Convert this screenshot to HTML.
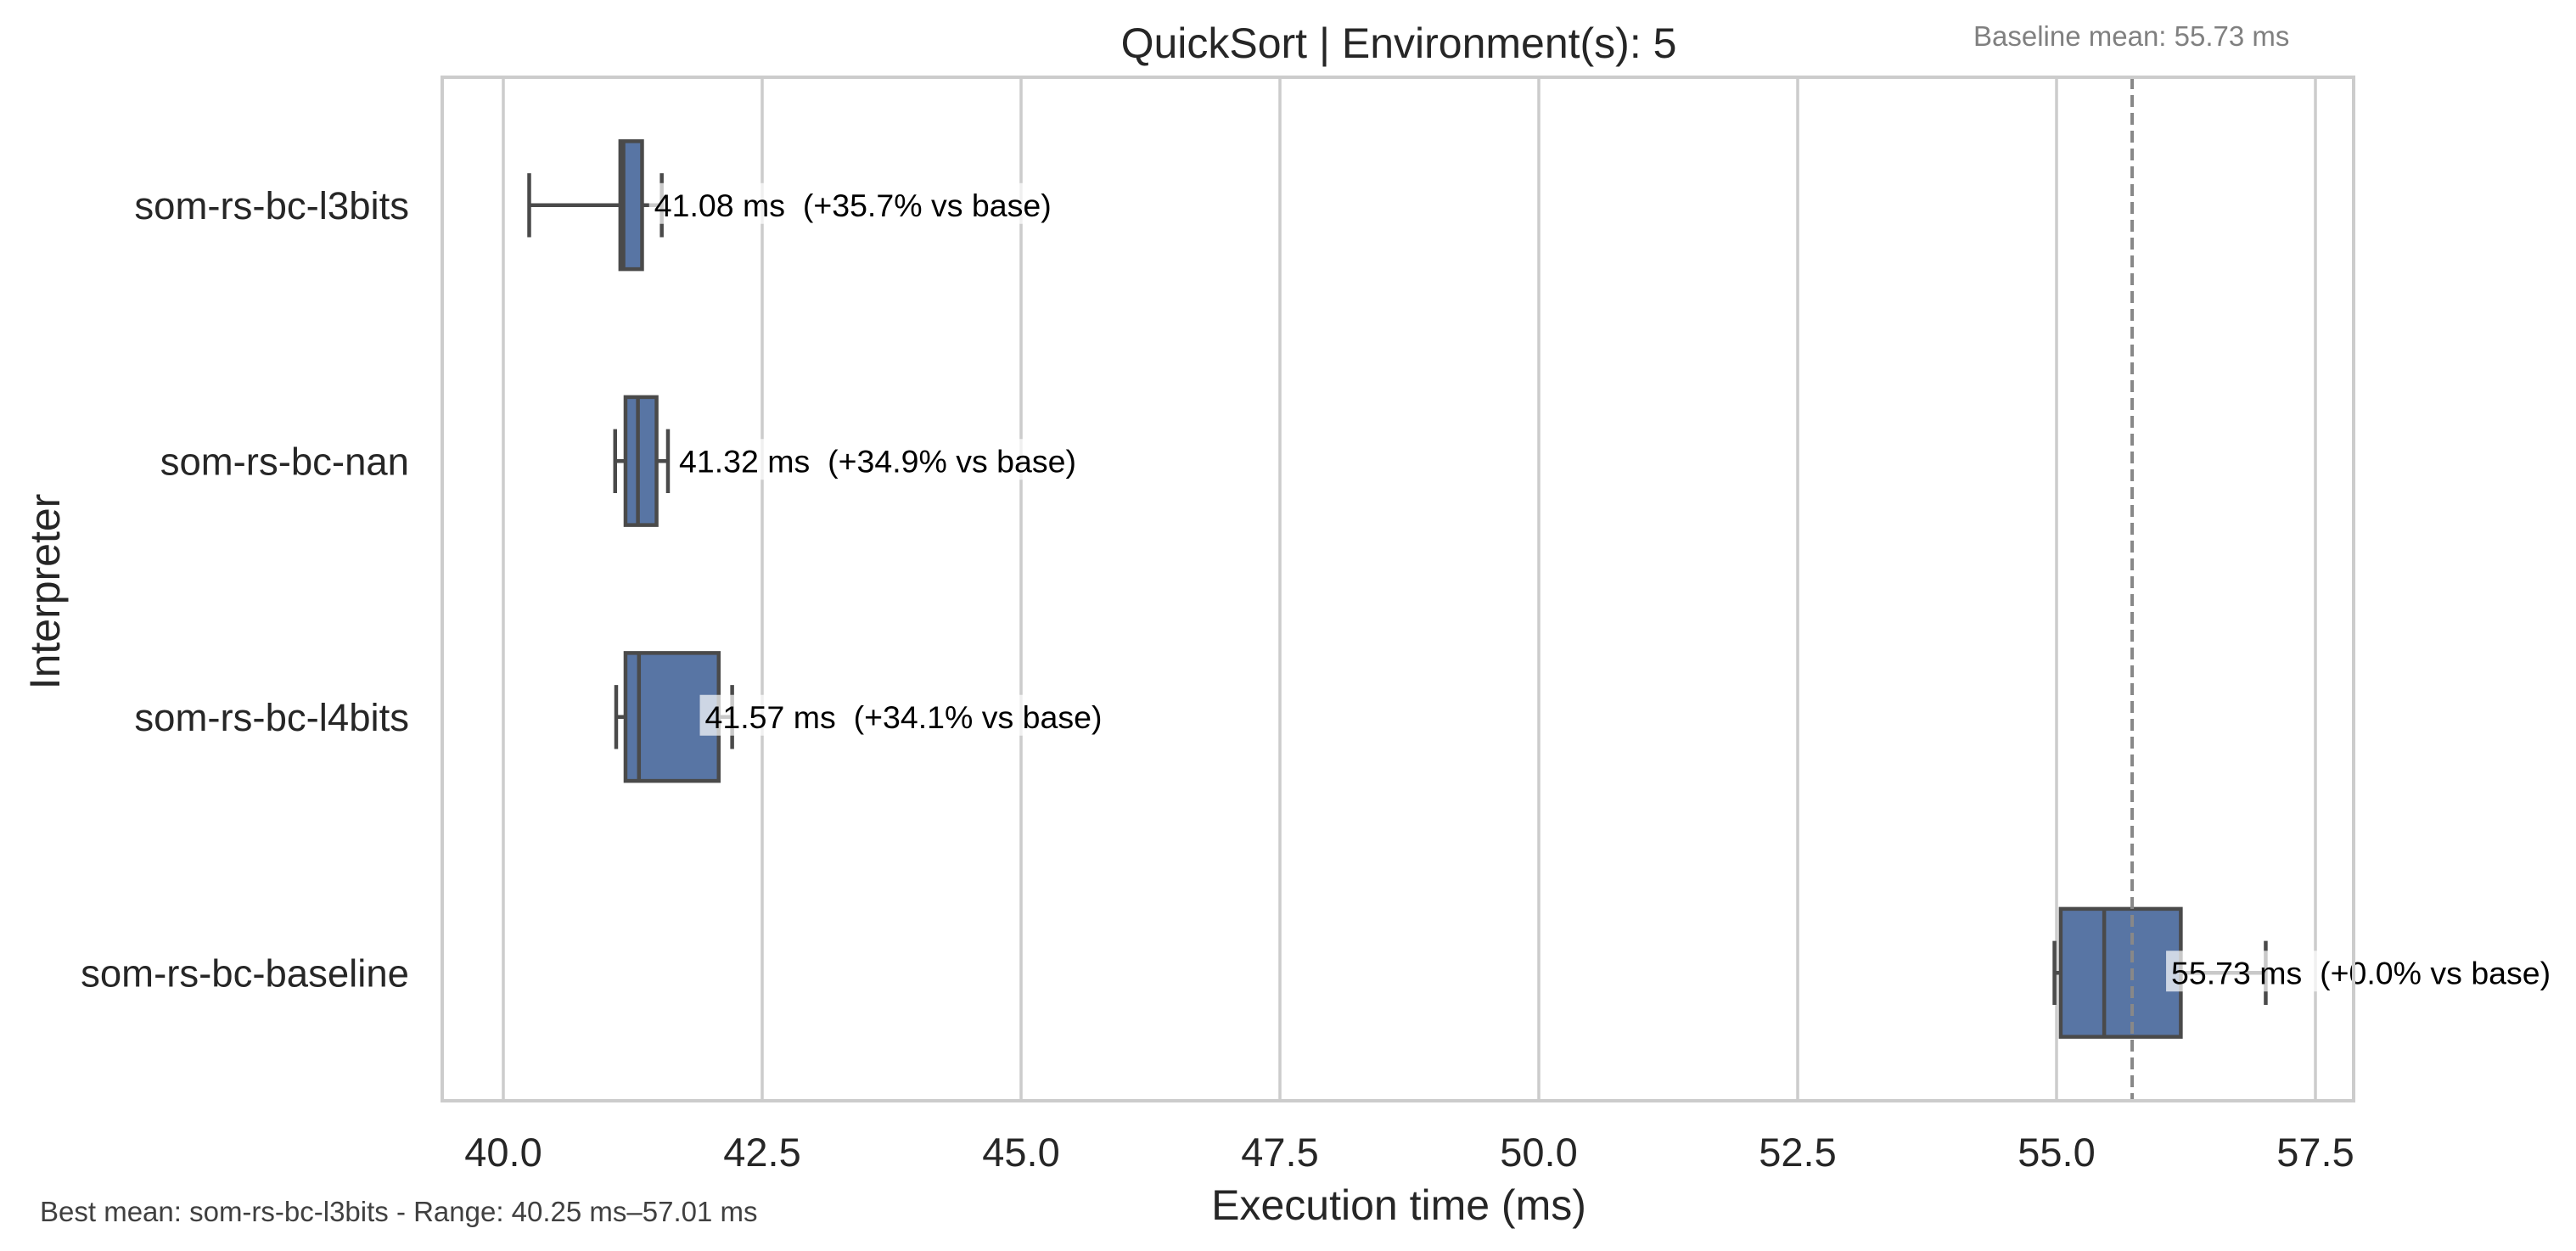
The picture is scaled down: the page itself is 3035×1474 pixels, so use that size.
<!DOCTYPE html>
<html><head><meta charset="utf-8"><style>
body{margin:0;background:#fff}
svg{display:block;font-family:"Liberation Sans",Arial,sans-serif}
text{white-space:pre}
</style></head><body>
<svg id="chart" width="3035" height="1474" viewBox="0 0 3035 1474" xmlns="http://www.w3.org/2000/svg">
<rect width="3035" height="1474" fill="#fff"/>
<g id="grid"></g>
<g id="boxes"></g>
<g id="labels"></g>
<rect x="521" y="91" width="2252" height="1206" fill="none" stroke="#cccccc" stroke-width="4"/>
<text x="1648" y="68" font-size="50" text-anchor="middle" fill="#262626">QuickSort | Environment(s): 5</text>
<text x="2325" y="54" font-size="33" fill="#808080">Baseline mean: 55.73 ms</text>
<text x="1648" y="1437" font-size="50" text-anchor="middle" fill="#262626">Execution time (ms)</text>
<text transform="translate(70,697) rotate(-90)" font-size="50" text-anchor="middle" fill="#262626">Interpreter</text>
<text x="47" y="1439" font-size="33" fill="#404040">Best mean: som-rs-bc-l3bits - Range: 40.25 ms–57.01 ms</text>
</svg>
<script>
const categories=["som-rs-bc-l3bits","som-rs-bc-nan","som-rs-bc-l4bits","som-rs-bc-baseline"];
const whiskerLow=[40.25,41.08,41.09,54.98];
const q1=[41.13,41.18,41.18,55.04];
const medians=[41.16,41.30,41.31,55.46];
const q3=[41.34,41.48,42.08,56.20];
const whiskerHigh=[41.53,41.59,42.21,57.02];
const means=[41.08,41.32,41.57,55.73];
const annotations=["41.08 ms  (+35.7% vs base)","41.32 ms  (+34.9% vs base)","41.57 ms  (+34.1% vs base)","55.73 ms  (+0.0% vs base)"];
const xTicks=[40.0,42.5,45.0,47.5,50.0,52.5,55.0,57.5];
const xTickLabels=["40.0","42.5","45.0","47.5","50.0","52.5","55.0","57.5"];
const baselineMean=55.73;

(function(){
const NS="http://www.w3.org/2000/svg";
const plotTop=91,plotBottom=1297;
const x=v=>593+(v-40)*122;
const band=(plotBottom-plotTop)/categories.length;
const y=i=>plotTop+band*(i+0.5);
function mk(p,tag,a){const e=document.createElementNS(NS,tag);for(const k in a)e.setAttribute(k,a[k]);p.appendChild(e);return e;}
const grid=document.getElementById('grid'),boxes=document.getElementById('boxes'),labels=document.getElementById('labels');
xTicks.forEach((t,i)=>{
  const l=mk(grid,'line',{x1:x(t),x2:x(t),y1:plotTop,y2:plotBottom,stroke:'#cccccc','stroke-width':3.5});
  
  
  const tx=mk(labels,'text',{x:x(t),y:1374,'font-size':47,'text-anchor':'middle',fill:'#262626'});
  tx.textContent=xTickLabels[i];
  
  
});
const bh=band*0.5;
categories.forEach((c,i)=>{
  const cy=y(i);
  const g=mk(boxes,'g',{});
  
  
  const st={stroke:'#4a4a4a','stroke-width':4.5};
  mk(g,'line',Object.assign({x1:x(whiskerLow[i]),x2:x(q1[i]),y1:cy,y2:cy},st));
  mk(g,'line',Object.assign({x1:x(q3[i]),x2:x(whiskerHigh[i]),y1:cy,y2:cy},st));
  mk(g,'line',Object.assign({x1:x(whiskerLow[i]),x2:x(whiskerLow[i]),y1:cy-bh/4,y2:cy+bh/4},st));
  mk(g,'line',Object.assign({x1:x(whiskerHigh[i]),x2:x(whiskerHigh[i]),y1:cy-bh/4,y2:cy+bh/4},st));
  mk(g,'rect',Object.assign({x:x(q1[i]),y:cy-bh/2,width:x(q3[i])-x(q1[i]),height:bh,fill:'#5875a4'},st));
  mk(g,'line',Object.assign({x1:x(medians[i]),x2:x(medians[i]),y1:cy-bh/2,y2:cy+bh/2},st));
  const lab=mk(labels,'text',{x:482,y:cy+16,'font-size':45.5,'text-anchor':'end',fill:'#262626'});
  lab.textContent=c;
  
  
});
const dl=mk(boxes,'line',{x1:x(baselineMean),x2:x(baselineMean),y1:plotTop,y2:plotBottom,stroke:'#888888','stroke-width':4,'stroke-dasharray':'14,7'});


categories.forEach((c,i)=>{
  const cy=y(i);
  const tx=x(means[i])+46;
  const r=mk(labels,'rect',{x:tx-6,y:cy-26,width:10,height:48,fill:'#ffffff','fill-opacity':0.7});
  
  
  const t=mk(labels,'text',{x:tx,y:cy+13,'font-size':37.5,fill:'#000'});
  t.textContent=annotations[i];
  
  
  let w=600;
  try{w=t.getComputedTextLength();}catch(e){}
  r.setAttribute('width',w+12);
});
})();
</script>
</body></html>
